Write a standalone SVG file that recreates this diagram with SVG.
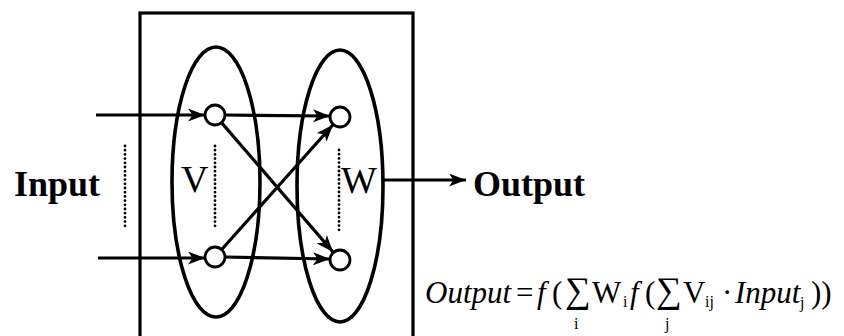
<svg xmlns="http://www.w3.org/2000/svg" width="844" height="336" viewBox="0 0 844 336">
  <defs>
    <marker id="ah" markerUnits="userSpaceOnUse" markerWidth="20" markerHeight="14" refX="17" refY="6.5" orient="auto">
      <path d="M0,0 L17,6.5 L0,13 L4.5,6.5 z" fill="#000"/>
    </marker>
    <style>
      .ln { stroke:#000; stroke-width:3.2; fill:none; }
      .ell { stroke:#000; stroke-width:3.6; fill:none; }
      .neu { stroke:#000; stroke-width:2.8; fill:#fff; }
      .dots { stroke:#000; stroke-width:2.8; stroke-linecap:round; stroke-dasharray:0 4.2; fill:none; }
      .bold { font-family:"Liberation Serif", "Times New Roman", serif; font-weight:bold; font-size:36px; fill:#000; }
      .lab { font-family:"Liberation Serif", "Times New Roman", serif; font-size:38px; fill:#000; }
      .fm { font-family:"Liberation Serif", "Times New Roman", serif; font-size:31px; fill:#000; }
      .sig { font-family:"Liberation Serif", "Times New Roman", serif; font-size:36px; fill:#000; }
      .it { font-style:italic; }
      .sub { font-family:"Liberation Serif", "Times New Roman", serif; font-size:16px; fill:#000; }
    </style>
  </defs>
  <rect width="844" height="336" fill="#fff"/>

  <g id="box">
    <rect x="140" y="13" width="273" height="326" class="ln"/>
  </g>

  <g id="layerV">
    <ellipse cx="216" cy="182" rx="44" ry="135" class="ell"/>
    <line x1="215" y1="146" x2="215" y2="228" class="dots"/>
    <text x="181" y="192" class="lab">V</text>
  </g>
  <g id="layerW">
    <ellipse cx="340" cy="186" rx="43" ry="136" class="ell"/>
    <line x1="339" y1="150" x2="339" y2="230" class="dots"/>
    <text x="341" y="193" class="lab">W</text>
  </g>

  <g id="connectors">
    <line x1="96" y1="115" x2="205" y2="115" class="ln" marker-end="url(#ah)"/>
    <line x1="98" y1="258" x2="205" y2="258" class="ln" marker-end="url(#ah)"/>
    <line x1="225" y1="115" x2="330" y2="116" class="ln" marker-end="url(#ah)"/>
    <line x1="225" y1="257" x2="330" y2="259" class="ln" marker-end="url(#ah)"/>
    <line x1="221.5" y1="122.6" x2="333" y2="252" class="ln" marker-end="url(#ah)"/>
    <line x1="221.7" y1="249.5" x2="333" y2="124.8" class="ln" marker-end="url(#ah)"/>
    <line x1="383" y1="180" x2="466" y2="180" class="ln" marker-end="url(#ah)"/>
  </g>

  <g id="v1"><circle cx="215" cy="115" r="10" class="neu"/></g>
  <g id="v2"><circle cx="215" cy="257" r="10" class="neu"/></g>
  <g id="w1"><circle cx="340" cy="117" r="10" class="neu"/></g>
  <g id="w2"><circle cx="340" cy="260" r="10" class="neu"/></g>

  <g id="input">
    <text x="14" y="196" class="bold">Input</text>
    <line x1="125" y1="146" x2="125" y2="226" class="dots"/>
  </g>
  <g id="output">
    <text x="473" y="196" class="bold">Output</text>
  </g>

  <g id="formula">
    <text x="425" y="303" class="fm it">Output</text>
    <text x="516" y="303" class="fm">=</text>
    <text x="537" y="303" class="fm it">f</text>
    <text x="552" y="303" class="fm">(</text>
    <text x="565" y="302" class="sig">∑</text>
    <text x="574" y="329" class="sub">i</text>
    <text x="592" y="303" class="fm">W</text>
    <text x="623" y="307" class="sub">i</text>
    <text x="630" y="303" class="fm it">f</text>
    <text x="645" y="303" class="fm">(</text>
    <text x="656" y="302" class="sig">∑</text>
    <text x="665" y="329" class="sub">j</text>
    <text x="683" y="303" class="fm">V</text>
    <text x="705" y="307" class="sub">ij</text>
    <text x="722" y="303" class="fm">·</text>
    <text x="735" y="303" class="fm it">Input</text>
    <text x="800" y="308" class="sub">j</text>
    <text x="811" y="303" class="fm">))</text>
  </g>
</svg>
